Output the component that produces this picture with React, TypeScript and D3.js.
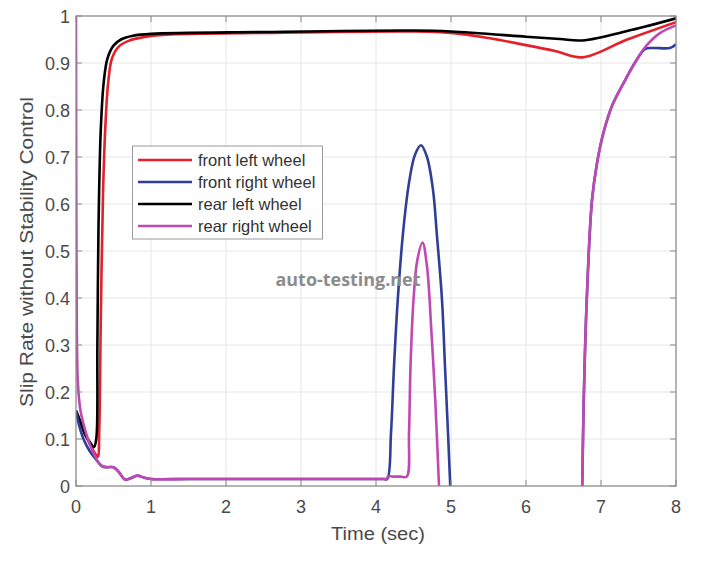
import React from "react";
import * as d3 from "d3";

const xTicks = [0, 1, 2, 3, 4, 5, 6, 7, 8];
const yTicks = [0, 0.1, 0.2, 0.3, 0.4, 0.5, 0.6, 0.7, 0.8, 0.9, 1];
const yTickLabels = ["0", "0.1", "0.2", "0.3", "0.4", "0.5", "0.6", "0.7", "0.8", "0.9", "1"];

const seriesNames = ["front left wheel", "front right wheel", "rear left wheel", "rear right wheel"];
const seriesColors = ["#e5202a", "#2f3f98", "#000000", "#c048b4"];

// front left wheel
const frontLeft: [number, number][] = [
  [0, 0.16], [0.05, 0.14], [0.12, 0.11], [0.2, 0.085], [0.26, 0.068], [0.29, 0.062],
  [0.31, 0.12], [0.33, 0.35], [0.36, 0.62], [0.39, 0.76], [0.43, 0.86], [0.48, 0.91],
  [0.57, 0.935], [0.7, 0.947], [0.9, 0.955], [1.2, 0.96], [2.5, 0.964], [4.5, 0.967],
  [5.0, 0.964], [5.5, 0.953], [6.0, 0.938], [6.4, 0.925], [6.75, 0.912], [7.35, 0.95], [8, 0.987],
];
// front right wheel
const frontRightA: [number, number][] = [
  [0, 0.16], [0.04, 0.13], [0.1, 0.1], [0.18, 0.075], [0.25, 0.06], [0.3, 0.05], [0.35, 0.042],
  [0.42, 0.04], [0.5, 0.04], [0.57, 0.03], [0.65, 0.014], [0.72, 0.016], [0.82, 0.022],
  [0.9, 0.018], [1.0, 0.015], [1.5, 0.015], [2.0, 0.015], [2.5, 0.015], [3.0, 0.015],
  [3.5, 0.015], [4.0, 0.015], [4.1, 0.015], [4.15, 0.015], [4.2, 0.113], [4.24, 0.254],
  [4.29, 0.396], [4.36, 0.538], [4.44, 0.645], [4.52, 0.705], [4.6, 0.725], [4.68, 0.7],
  [4.76, 0.63], [4.81, 0.538], [4.88, 0.396], [4.92, 0.254], [4.96, 0.113], [4.99, 0],
];
const frontRightB: [number, number][] = [
  [6.75, 0], [6.77, 0.183], [6.81, 0.396], [6.88, 0.608], [6.95, 0.69], [7.03, 0.75],
  [7.15, 0.81], [7.3, 0.857], [7.45, 0.9], [7.59, 0.93], [7.7, 0.932], [7.92, 0.932], [8, 0.94],
];
// rear left wheel
const rearLeft: [number, number][] = [
  [0, 0.16], [0.05, 0.14], [0.12, 0.11], [0.2, 0.09], [0.24, 0.083], [0.27, 0.1],
  [0.285, 0.3], [0.3, 0.55], [0.33, 0.757], [0.37, 0.86], [0.42, 0.91], [0.5, 0.937],
  [0.6, 0.95], [0.76, 0.958], [1.0, 0.962], [2.5, 0.966], [4.5, 0.969], [5.0, 0.967],
  [6.0, 0.956], [6.45, 0.951], [6.75, 0.948], [7.4, 0.97], [8, 0.995],
];
// rear right wheel
const rearRightA: [number, number][] = [
  [0, 1.0], [0.004, 0.6], [0.01, 0.35], [0.025, 0.22], [0.06, 0.16], [0.12, 0.12],
  [0.18, 0.09], [0.25, 0.065], [0.3, 0.05], [0.35, 0.042], [0.42, 0.04], [0.5, 0.04],
  [0.57, 0.03], [0.65, 0.014], [0.72, 0.016], [0.82, 0.022], [0.9, 0.018], [1.0, 0.015],
  [1.5, 0.015], [2.0, 0.015], [2.5, 0.015], [3.0, 0.015], [3.5, 0.015], [4.0, 0.015],
  [4.1, 0.015], [4.14, 0.015], [4.16, 0.02], [4.25, 0.02], [4.33, 0.02], [4.41, 0.02],
  [4.44, 0.113], [4.46, 0.254], [4.5, 0.396], [4.55, 0.48], [4.62, 0.518], [4.68, 0.467],
  [4.74, 0.325], [4.79, 0.183], [4.84, 0],
];
const rearRightB: [number, number][] = [
  [6.75, 0], [6.77, 0.183], [6.81, 0.396], [6.88, 0.608], [6.95, 0.69], [7.03, 0.75],
  [7.15, 0.81], [7.3, 0.857], [7.45, 0.9], [7.59, 0.934], [7.79, 0.964], [8, 0.98],
];

const W = 702, H = 563;
const left = 76, right = 676, top = 16, bottom = 486;

export default function App() {
  const x = d3.scaleLinear().domain([0, 8]).range([left, right]);
  const y = d3.scaleLinear().domain([0, 1]).range([bottom, top]);
  const line = d3.line<[number, number]>().x(d => x(d[0])).y(d => y(d[1])).curve(d3.curveCatmullRom.alpha(0.5));

  const paths: { d: [number, number][]; c: string }[] = [
    { d: frontLeft, c: seriesColors[0] },
    { d: rearLeft, c: seriesColors[2] },
    { d: frontRightA, c: seriesColors[1] },
    { d: frontRightB, c: seriesColors[1] },
    { d: rearRightA, c: seriesColors[3] },
    { d: rearRightB, c: seriesColors[3] },
  ];
  const axisColor = "#8a8a8a";
  const textColor = "#4a4a4a";
  const font = "Liberation Sans, Arial, sans-serif";

  return (
    <svg width={W} height={H} style={{ position: "absolute", left: 0, top: 0, background: "#fff" }}>
      <defs>
        <clipPath id="plotclip">
          <rect x={left} y={top - 1} width={right - left} height={bottom - top + 1} />
        </clipPath>
      </defs>
      <rect x={0} y={0} width={W} height={H} fill="#fff" />
      {xTicks.map(t => (
        <line key={"gx" + t} x1={x(t)} x2={x(t)} y1={top} y2={bottom} stroke="#e6e6e6" strokeWidth={1} />
      ))}
      {yTicks.map(t => (
        <line key={"gy" + t} x1={left} x2={right} y1={y(t)} y2={y(t)} stroke="#e6e6e6" strokeWidth={1} />
      ))}
      <g clipPath="url(#plotclip)">
        {paths.map((p, i) => (
          <path key={i} d={line(p.d) || ""} fill="none" stroke={p.c} strokeWidth={2.6} strokeLinejoin="round" />
        ))}
      </g>
      <rect x={left} y={top} width={right - left} height={bottom - top} fill="none" stroke={axisColor} strokeWidth={1.2} />
      {xTicks.map(t => (
        <g key={"tx" + t}>
          <line x1={x(t)} x2={x(t)} y1={bottom} y2={bottom - 6} stroke={axisColor} />
          <line x1={x(t)} x2={x(t)} y1={top} y2={top + 6} stroke={axisColor} />
          <text x={x(t)} y={513} textAnchor="middle" fontSize={18} fill={textColor} fontFamily={font}>{t}</text>
        </g>
      ))}
      {yTicks.map((t, i) => (
        <g key={"ty" + t}>
          <line x1={left} x2={left + 6} y1={y(t)} y2={y(t)} stroke={axisColor} />
          <line x1={right} x2={right - 6} y1={y(t)} y2={y(t)} stroke={axisColor} />
          <text x={70} y={y(t) + 6.5} textAnchor="end" fontSize={18} fill={textColor} fontFamily={font}>{yTickLabels[i]}</text>
        </g>
      ))}
      <text x={378} y={540} textAnchor="middle" fontSize={18} fill={textColor} fontFamily={font} textLength={94} lengthAdjust="spacingAndGlyphs">Time (sec)</text>
      <text transform="translate(33,252) rotate(-90)" textAnchor="middle" fontSize={18} fill={textColor} fontFamily={font} textLength={310} lengthAdjust="spacingAndGlyphs">Slip Rate without Stability Control</text>
      <rect x={132.5} y={146} width={190} height={93} fill="#fff" stroke="#9a9a9a" strokeWidth={1} />
      {seriesNames.map((n, i) => {
        const yy = 160 + i * 22;
        return (
          <g key={n}>
            <line x1={138} x2={192} y1={yy} y2={yy} stroke={seriesColors[i]} strokeWidth={2.6} />
            <text x={198} y={yy + 5.5} fontSize={16.5} fill="#333" fontFamily={font}>{n}</text>
          </g>
        );
      })}
      <text x={348} y={286} textAnchor="middle" fontSize={18} fontWeight="bold" fill="#8c8c8c" fontFamily="Open Sans, sans-serif" textLength={145} lengthAdjust="spacingAndGlyphs">auto-testing.net</text>
    </svg>
  );
}
